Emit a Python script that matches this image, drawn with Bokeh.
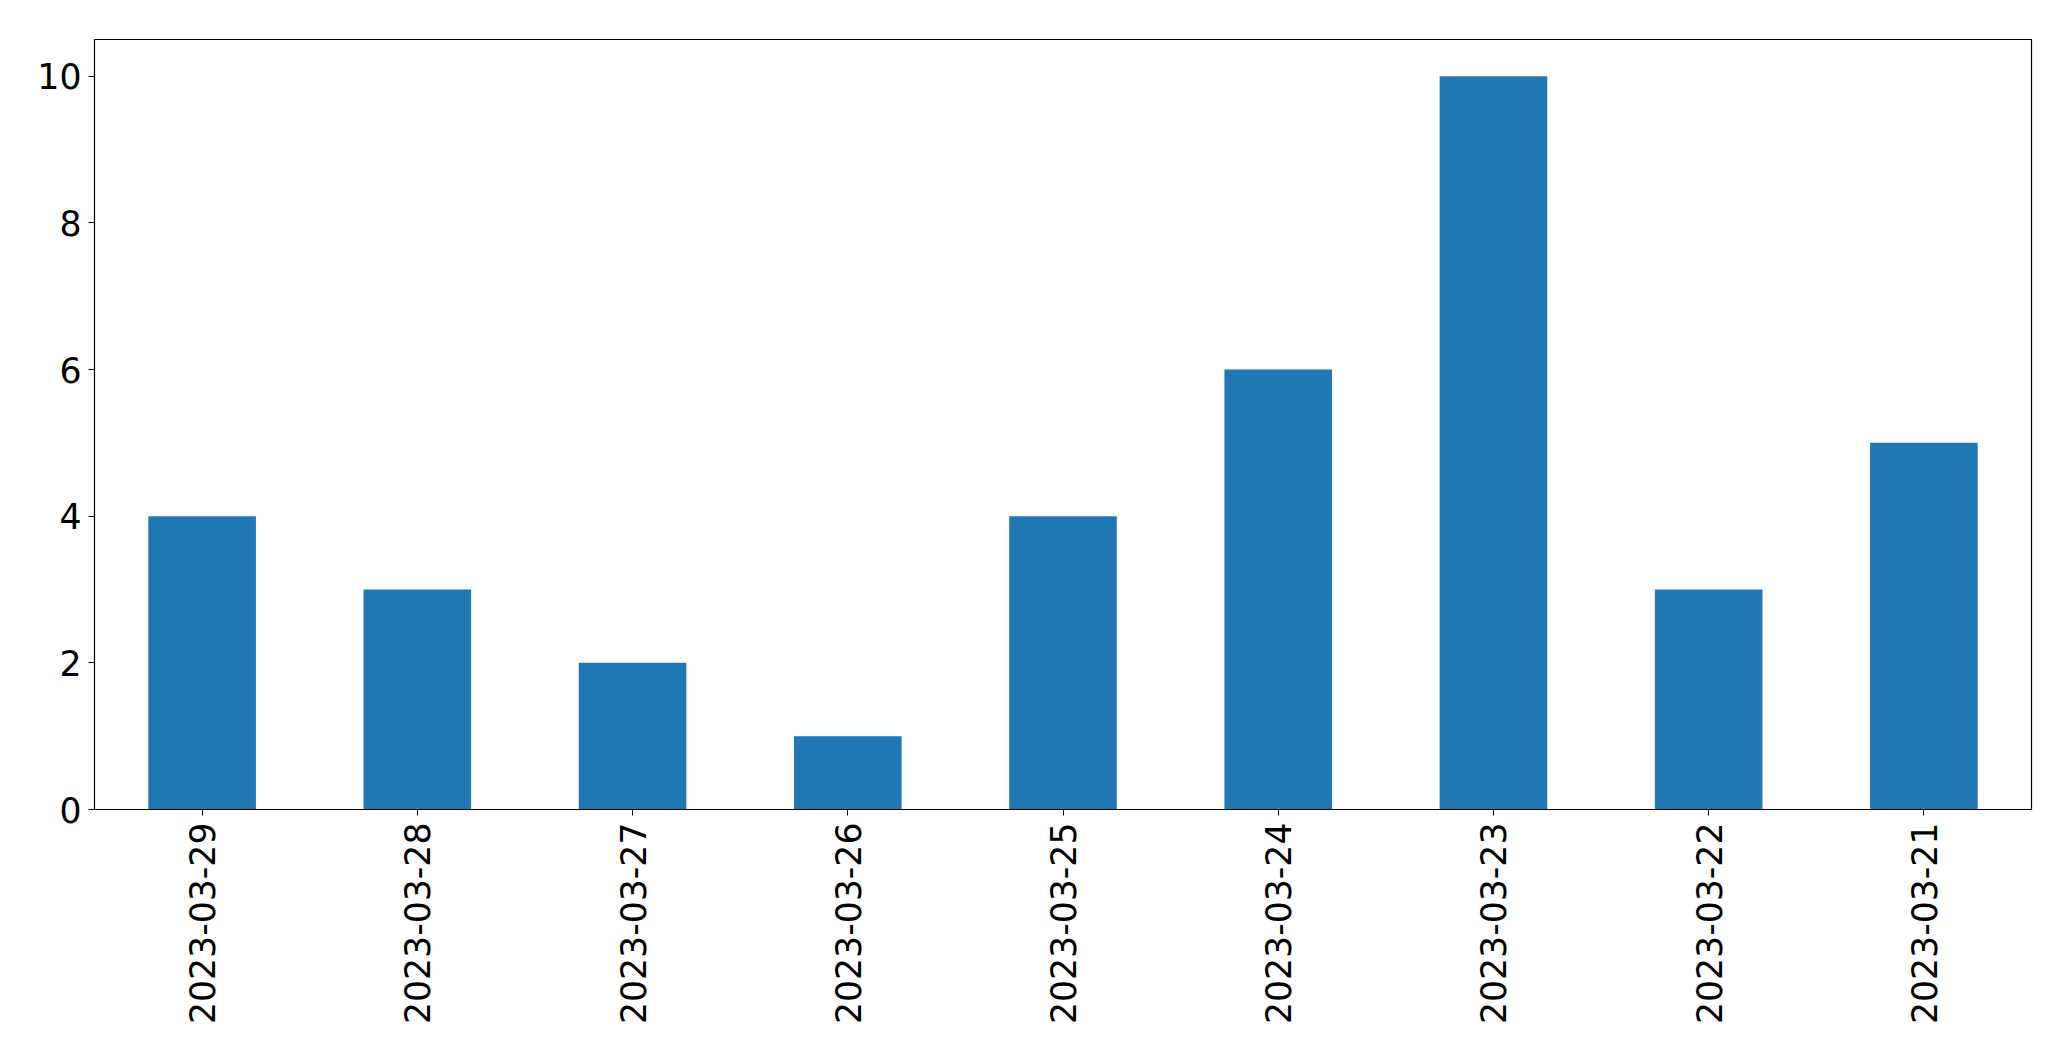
from bokeh.plotting import figure
from bokeh.models import FactorRange, Range1d, FixedTicker
from bokeh.embed import file_html
from bokeh.resources import INLINE
import math

dates = ["2023-03-29", "2023-03-28", "2023-03-27", "2023-03-26", "2023-03-25",
         "2023-03-24", "2023-03-23", "2023-03-22", "2023-03-21"]
counts = [4, 3, 2, 1, 4, 6, 10, 3, 5]
y_ticks = [0, 2, 4, 6, 8, 10]

p = figure(width=2063, height=1053, output_backend="svg", toolbar_location=None,
           x_range=FactorRange(factors=dates, range_padding=0),
           y_range=Range1d(0, 10.5))
p.min_border_left = 94
p.min_border_top = 39
p.min_border_right = 32
p.min_border_bottom = 244

p.vbar(x=dates, top=counts, width=0.5, fill_color="#1f77b4", line_color=None)

p.xgrid.visible = False
p.ygrid.visible = False
p.outline_line_color = "black"
p.outline_line_width = 1.2
p.outline_line_alpha = 1

p.yaxis.ticker = FixedTicker(ticks=y_ticks)
for ax in (p.xaxis[0], p.yaxis[0]):
    ax.major_label_text_font = "DejaVu Sans"
    ax.major_label_text_font_size = "34.7px"
    ax.major_label_text_color = "black"
    ax.major_tick_line_color = "black"
    ax.major_tick_out = 6
    ax.major_tick_in = 0
    ax.minor_tick_line_color = None
    ax.axis_line_color = "black"
    ax.major_label_standoff = 7
p.xaxis.major_label_orientation = math.pi / 2
p.xaxis.group_text_font_size = "0px"

open("out.html", "w").write(file_html(p, INLINE))
